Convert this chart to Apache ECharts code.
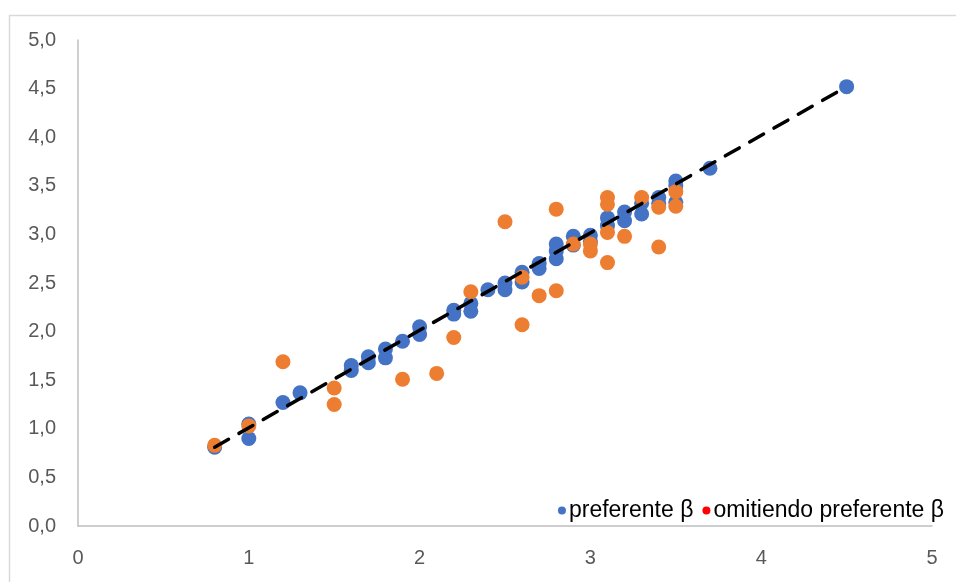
<!DOCTYPE html>
<html>
<head>
<meta charset="utf-8">
<script src="https://cdn.jsdelivr.net/npm/echarts@6/dist/echarts.min.js"></script>
<style>
  html, body { margin: 0; padding: 0; background: #fff; }
  #chart { width: 956px; height: 582px; }
</style>
</head>
<body>
<div id="chart"></div>
<script>
// Series names
const seriesNames = ['preferente \u03b2', 'omitiendo preferente \u03b2'];

// "preferente β" points: [x, y]
const preferente = [
  [0.8, 0.81], [1.0, 1.05], [1.0, 0.90], [1.2, 1.27], [1.3, 1.37],
  [1.6, 1.65], [1.6, 1.60], [1.7, 1.74], [1.7, 1.68], [1.8, 1.82],
  [1.8, 1.73], [1.9, 1.90], [2.0, 2.05], [2.0, 1.97], [2.2, 2.22],
  [2.2, 2.18], [2.3, 2.29], [2.3, 2.21], [2.4, 2.43], [2.5, 2.50],
  [2.5, 2.43], [2.6, 2.61], [2.6, 2.51], [2.7, 2.70], [2.7, 2.65],
  [2.8, 2.90], [2.8, 2.83], [2.8, 2.75], [2.9, 2.98], [2.9, 2.89],
  [3.0, 2.99], [3.0, 2.93], [3.1, 3.17], [3.1, 3.09], [3.2, 3.23],
  [3.2, 3.14], [3.3, 3.32], [3.3, 3.21], [3.4, 3.38], [3.4, 3.32],
  [3.5, 3.55], [3.5, 3.50], [3.5, 3.33], [3.7, 3.68], [4.5, 4.52]
];

// "omitiendo preferente β" points: [x, y]
const omitiendo = [
  [0.8, 0.83], [1.0, 1.03], [1.2, 1.69], [1.5, 1.42], [1.5, 1.25],
  [1.9, 1.51], [2.1, 1.57], [2.2, 1.94], [2.3, 2.41], [2.5, 3.13],
  [2.6, 2.56], [2.6, 2.07], [2.7, 2.37], [2.8, 3.26], [2.8, 2.42],
  [2.9, 2.90], [3.0, 2.90], [3.0, 2.83], [3.1, 3.38], [3.1, 3.31],
  [3.1, 3.02], [3.1, 2.71], [3.2, 2.98], [3.3, 3.38], [3.4, 3.28],
  [3.4, 2.87], [3.5, 3.44], [3.5, 3.29]
];

// Linear trend line endpoints
const trend = [[0.8, 0.81], [4.5, 4.52]];

// Axis ranges
const xRange = [0, 5, 1];
const yRange = [0, 5, 0.5];

const chart = echarts.init(document.getElementById('chart'), null, { renderer: 'canvas' });
const font = 'Liberation Sans, Arial, sans-serif';

chart.setOption({
  animation: false,
  backgroundColor: '#ffffff',
  graphic: [{
    type: 'rect',
    left: 7, top: 13,
    shape: { width: 960, height: 600 },
    style: { fill: 'none', stroke: '#d9d9d9', lineWidth: 1.5 },
    silent: true, z: -1
  }],
  grid: { left: 78, right: 24, top: 40, bottom: 56, containLabel: false },
  xAxis: {
    type: 'value',
    min: xRange[0], max: xRange[1], interval: xRange[2],
    axisLine: { show: true, onZero: false, lineStyle: { color: '#bfbfbf', width: 1.5 } },
    axisTick: { show: false },
    splitLine: { show: false },
    axisLabel: { color: '#595959', fontFamily: font, fontSize: 20, margin: 22 }
  },
  yAxis: {
    type: 'value',
    min: yRange[0], max: yRange[1], interval: yRange[2],
    axisLine: { show: true, onZero: false, lineStyle: { color: '#bfbfbf', width: 1.5 } },
    axisTick: { show: false },
    splitLine: { show: false },
    axisLabel: {
      color: '#595959', fontFamily: font, fontSize: 20, margin: 22,
      formatter: v => v.toFixed(1).replace('.', ',')
    }
  },
  legend: {
    right: 7, top: 494,
    itemWidth: 8, itemHeight: 8, itemGap: 9,
    icon: 'circle',
    textStyle: { color: '#000', fontFamily: font, fontSize: 23, padding: [0, 0, 0, -2] },
    data: [
      { name: seriesNames[0], itemStyle: { color: '#4472C4' } },
      { name: seriesNames[1], itemStyle: { color: '#FF0000' } }
    ]
  },
  series: [
    {
      name: seriesNames[0], type: 'scatter', data: preferente,
      symbolSize: 15, itemStyle: { color: '#4472C4', opacity: 1 }, z: 2
    },
    {
      name: seriesNames[1], type: 'scatter', data: omitiendo,
      symbolSize: 15, itemStyle: { color: '#ED7D31', opacity: 1 }, z: 3
    },
    {
      name: 'trend', type: 'line', data: trend,
      showSymbol: false, symbol: 'none', silent: true,
      lineStyle: { color: '#000', width: 3.5, type: [16, 12], cap: 'round' }, z: 4
    }
  ]
});
</script>
</body>
</html>
